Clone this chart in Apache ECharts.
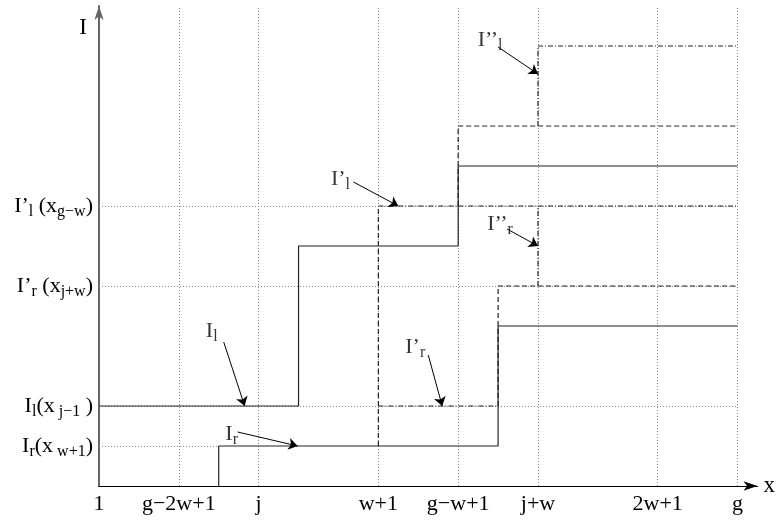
<!DOCTYPE html>
<html>
<head>
<meta charset="utf-8">
<script src="https://cdn.jsdelivr.net/npm/echarts@6/dist/echarts.min.js"></script>
<style>
html, body { margin: 0; padding: 0; background: #fff; }
#main { width: 778px; height: 521px; }
</style>
</head>
<body>
<div id="main"></div>
<script>
// x ticks (one grid line each) and their labels
var xTicks = [0, 2, 4, 7, 9, 11, 14, 16];
var xTickLabels = ['1', 'g−2w+1', 'j', 'w+1', 'g−w+1', 'j+w', '2w+1', 'g'];

// y levels marked on the axis, and where their dotted line stops
var yTicks = [1, 2, 5, 7];
var yTickLabels = [
  '{m|I}{s|r}{m|(x}{s| w+1}{m|)}',
  '{m|I}{s|l}{m|(x}{s| j−1}{m| )}',
  '{m|I’}{s|r}{m| (x}{s|j+w}{m|)}',
  '{m|I’}{s|l}{m| (x}{s|g−w}{m|)}'
];
var yGridEnd = [3, 16, 16, 16];

// solid curves
var IlSolid = [[0, 2], [5, 2], [5, 6], [9, 6], [9, 8], [16, 8]];
var IrSolid = [[3, 0], [3, 1], [10, 1], [10, 4], [16, 4]];
// dashed parts of I'r and I'l
var IrPrimeRise = [[7, 1], [7, 2]];
var IrPrimeHigh = [[10, 2], [10, 5], [16, 5]];
var IlPrimeRise = [[7, 2], [7, 7]];
var IlPrimeHigh = [[9, 7], [9, 9], [16, 9]];
// dash-dot parts
var IrPrimeLow = [[7, 2], [10, 2]];
var IlPrimeLow = [[7, 7], [11, 7]];
var IrDouble = [[11, 5], [11, 7], [16, 7]];
var IlDouble = [[11, 9], [11, 11], [16, 11]];

// curve names with arrows
var noteText = ['{n|I’}{t|l}', '{n|I’’}{t|l}', '{n|I’’}{t|r}', '{n|I}{t|l}', '{n|I’}{t|r}', '{n|I}{t|r}'];
var noteAt = [[6.05, 7.675], [9.8, 11.15], [10.05, 6.55], [2.825, 3.875], [7.925, 3.475], [3.325, 1.3]];
var noteFrom = [[6.375, 7.6], [10, 10.975], [10.225, 6.425], [3.125, 3.6], [8.25, 3.275], [3.475, 1.35]];
var noteTo = [[7.5, 7], [11, 10.3], [11, 6], [3.65, 2], [8.6, 2], [4.975, 1]];

var serif = 'Liberation Serif';
var ink = '#222';

var gridLines = [];
xTicks.forEach(function (x) {
  if (x > 0) gridLines.push({ coords: [[x, 0], [x, 12]] });
});
yTicks.forEach(function (y, i) {
  gridLines.push({ coords: [[0, y], [yGridEnd[i], y]] });
});

function step(data, type) {
  return {
    type: 'line',
    data: data,
    symbol: 'none',
    silent: true,
    z: 3,
    lineStyle: { color: ink, width: 1.2, type: type }
  };
}

var dash = [5, 3];
var dashDot = [5, 2, 1, 2];

var myChart = echarts.init(document.getElementById('main'));
myChart.setOption({
  animation: false,
  grid: { left: 99, right: 19, top: 6, bottom: 35 },
  xAxis: {
    type: 'value',
    min: 0,
    max: 16.5,
    name: 'x',
    nameLocation: 'end',
    nameGap: 6,
    nameTextStyle: { fontFamily: serif, fontSize: 23, color: '#000', verticalAlign: 'middle' },
    axisLine: { lineStyle: { color: '#000', width: 1.2 }, symbol: ['none', 'arrow'], symbolSize: [7, 14] },
    axisTick: { show: false },
    splitLine: { show: false },
    axisLabel: {
      customValues: xTicks,
      margin: 7,
      fontFamily: serif,
      fontSize: 22,
      color: '#000',
      formatter: function (v) { return xTickLabels[xTicks.indexOf(v)]; }
    }
  },
  yAxis: {
    type: 'value',
    min: 0,
    max: 12,
    name: 'I',
    nameLocation: 'end',
    nameGap: -10,
    nameTextStyle: { fontFamily: serif, fontSize: 23, color: '#000', align: 'right', verticalAlign: 'top', padding: [0, 12, 0, 0] },
    axisLine: { lineStyle: { color: '#666', width: 2 }, symbol: ['none', 'arrow'], symbolSize: [7, 14] },
    axisTick: { show: false },
    splitLine: { show: false },
    axisLabel: {
      customValues: yTicks,
      margin: 6,
      formatter: function (v) { return yTickLabels[yTicks.indexOf(v)]; },
      rich: {
        m: { fontFamily: serif, fontSize: 22, color: '#000' },
        s: { fontFamily: serif, fontSize: 16, color: '#000', padding: [12, 0, 0, 0] }
      }
    }
  },
  series: [
    {
      type: 'lines',
      coordinateSystem: 'cartesian2d',
      silent: true,
      z: 1,
      lineStyle: { color: '#888', width: 1, type: [1, 2], opacity: 1 },
      data: gridLines
    },
    step(IlSolid, 'solid'),
    step(IrSolid, 'solid'),
    step(IrPrimeRise, dash),
    step(IrPrimeHigh, dash),
    step(IlPrimeRise, dash),
    step(IlPrimeHigh, dash),
    step(IrPrimeLow, dashDot),
    step(IlPrimeLow, dashDot),
    step(IrDouble, dashDot),
    step(IlDouble, dashDot),
    {
      type: 'lines',
      coordinateSystem: 'cartesian2d',
      silent: true,
      z: 4,
      symbol: ['none', 'arrow'],
      symbolSize: 9,
      lineStyle: { color: '#000', width: 1, opacity: 1 },
      data: noteFrom.map(function (p, i) { return { coords: [p, noteTo[i]] }; })
    },
    {
      type: 'scatter',
      symbolSize: 0,
      silent: true,
      z: 5,
      data: noteAt,
      label: {
        show: true,
        position: 'inside',
        formatter: function (p) { return noteText[p.dataIndex]; },
        rich: {
          n: { fontFamily: serif, fontSize: 22, color: '#000' },
          t: { fontFamily: serif, fontSize: 16, color: '#000', padding: [12, 0, 0, 0] }
        }
      }
    }
  ]
});
</script>
</body>
</html>
